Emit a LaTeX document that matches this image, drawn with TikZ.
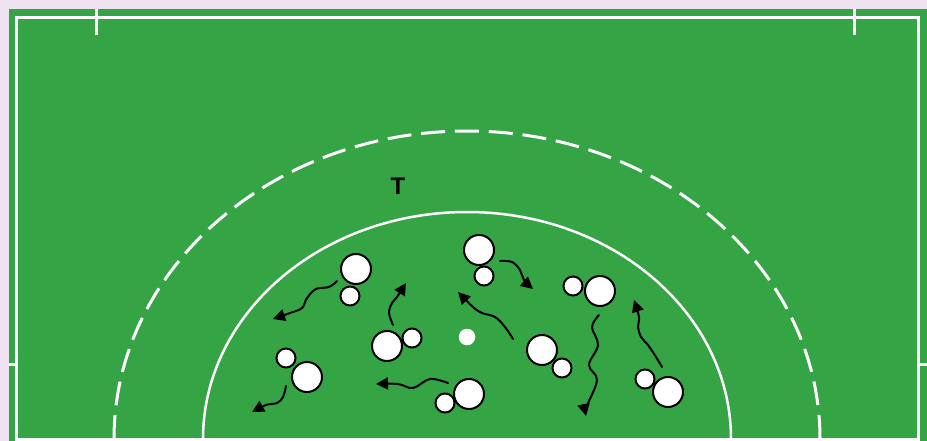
\documentclass[tikz,border=0pt]{standalone}
\usepackage{fontspec}
\setsansfont{Liberation Sans}
\usetikzlibrary{arrows.meta}
\definecolor{bgc}{RGB}{238,226,240}
\definecolor{fieldc}{RGB}{52,164,68}
\begin{document}
\begin{tikzpicture}[x=1pt,y=-1pt,
  wline/.style={white,line width=3pt},
  bigp/.style={circle,draw=black,fill=white,line width=2pt,minimum size=30pt,inner sep=0pt},
  smallp/.style={circle,draw=black,fill=white,line width=2pt,minimum size=19pt,inner sep=0pt},
  mv/.style={draw=black,line width=2pt,line cap=round,-{Triangle[length=12pt,width=12pt]}}]
\fill[bgc] (0,0) rectangle (927,441);
\useasboundingbox (0,0) rectangle (927,441);
\fill[fieldc] (9,9) rectangle (927,441);
% boundary
\draw[wline] (16.5,17.5) rectangle (918.5,439);
\draw[wline] (96.3,9) -- (96.3,35);
\draw[wline] (854,9) -- (854,35);
\draw[wline] (9,364.7) -- (16.5,364.7);
\draw[wline] (918.5,364.7) -- (927,364.7);
% arcs
\draw[white,line width=2.5pt] (203,439) arc[start angle=180,end angle=360,x radius=264,y radius=227];
\draw[white,line width=3pt,dash pattern=on 24pt off 9.85pt] (114,439) arc[start angle=180,end angle=360,x radius=353,y radius=308];
\fill[white] (467,337) circle[radius=8.3];
\node[font=\sffamily\bfseries\fontsize{24}{24}\selectfont,inner sep=0pt] (T) at (398,186.5) {T};
% players
\node[smallp] (p1s) at (350,296) {};
\node[bigp] (p1b) at (356,269) {};
\node[smallp] (p2s) at (286,358) {};
\node[bigp] (p2b) at (307,377) {};
\node[smallp] (p3s) at (412,338) {};
\node[bigp] (p3b) at (387,346) {};
\node[smallp] (p4s) at (445,403) {};
\node[bigp] (p4b) at (469,394) {};
\node[smallp] (p5s) at (484,276) {};
\node[bigp] (p5b) at (479,250) {};
\node[smallp] (p6s) at (562,368) {};
\node[bigp] (p6b) at (542,350) {};
\node[smallp] (p7s) at (573,286) {};
\node[bigp] (p7b) at (600,291) {};
\node[smallp] (p8s) at (645,379) {};
\node[bigp] (p8b) at (668,392) {};
% movement arrows
\draw[mv] plot[smooth,tension=0.6] coordinates {(337,281) (329,287) (316,289) (307,298) (302,308) (290,313) (273,319)};
\draw[mv] plot[smooth,tension=0.6] coordinates {(286,386) (283,397) (277,403) (266,405) (252,412)};
\draw[mv] plot[smooth,tension=0.6] coordinates {(393,325) (389,313) (392,303) (397,297) (406,283)};
\draw[mv] plot[smooth,tension=0.6] coordinates {(448,383) (430,379) (413,388) (398,384) (376,384)};
\draw[mv] plot[smooth,tension=0.6] coordinates {(500,261) (512,262) (520,270) (524,280) (533,289)};
\draw[mv] plot[smooth,tension=0.6] coordinates {(513,339) (505,327) (495,317) (482,313) (473,307) (458,292)};
\draw[mv] plot[smooth,tension=0.6] coordinates {(599,315) (592,327) (598,345) (589,365) (597,380) (587,406) (586,416)};
\draw[mv] plot[smooth,tension=0.6] coordinates {(662,367) (656,357) (648,345) (641,337) (638,327) (639,317) (634,300)};
\end{tikzpicture}
\end{document}
